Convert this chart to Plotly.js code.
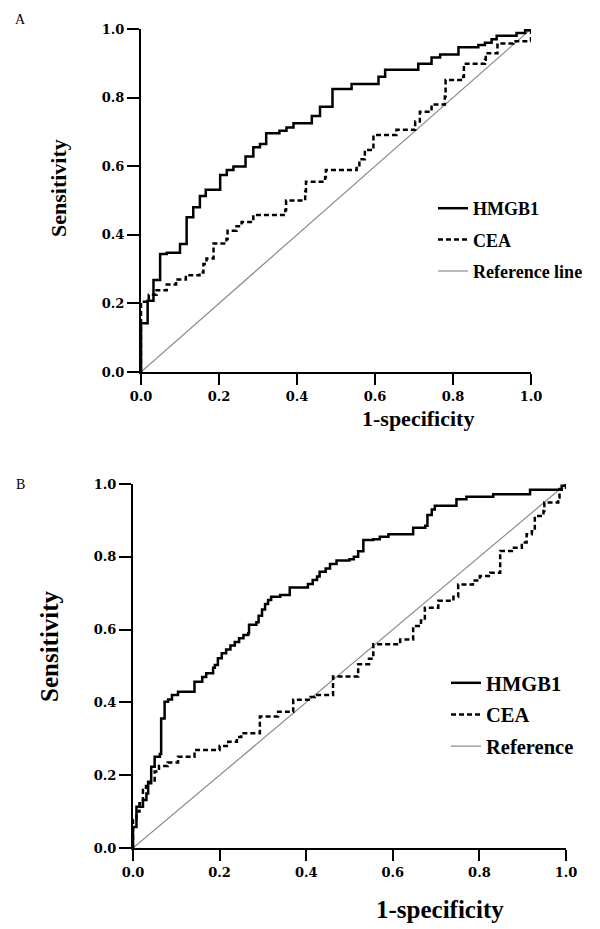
<!DOCTYPE html>
<html>
<head>
<meta charset="utf-8">
<script src="https://cdn.plot.ly/plotly-3.0.1.min.js"></script>
<style>html,body{margin:0;padding:0;background:#fff;}#chart{width:600px;height:929px;}</style>
</head>
<body>
<div id="chart"></div>
<script>
// ---------- data ----------
const tickVals = [0, 0.2, 0.4, 0.6, 0.8, 1.0];
const tickText = ['0.0', '0.2', '0.4', '0.6', '0.8', '1.0'];

const panelLabels = ['A', 'B'];
const legendNamesA = ['HMGB1', 'CEA', 'Reference line'];
const legendNamesB = ['HMGB1', 'CEA', 'Reference'];
const xTitle = '1-specificity';
const yTitle = 'Sensitivity';

const refX = [0, 1];
const refY = [0, 1];

// Panel A
const a_hmgb1_fpr = [0, 0, 0.017, 0.032, 0.049, 0.066, 0.100, 0.117, 0.134, 0.151, 0.166, 0.203, 0.220, 0.237, 0.268, 0.288, 0.305, 0.321, 0.355, 0.373, 0.391, 0.438, 0.459, 0.491, 0.540, 0.609, 0.626, 0.711, 0.745, 0.767, 0.814, 0.865, 0.882, 0.899, 0.912, 0.963, 0.985, 1];
const a_hmgb1_tpr = [0, 0.142, 0.208, 0.268, 0.344, 0.348, 0.373, 0.451, 0.480, 0.513, 0.531, 0.574, 0.589, 0.599, 0.628, 0.655, 0.665, 0.696, 0.703, 0.713, 0.725, 0.746, 0.773, 0.825, 0.840, 0.861, 0.881, 0.899, 0.917, 0.926, 0.947, 0.953, 0.960, 0.970, 0.980, 0.988, 0.996, 1];
const a_cea_fpr = [0, 0, 0.02, 0.04, 0.066, 0.09, 0.115, 0.150, 0.160, 0.168, 0.186, 0.219, 0.222, 0.245, 0.258, 0.288, 0.370, 0.372, 0.421, 0.423, 0.472, 0.474, 0.553, 0.560, 0.574, 0.596, 0.655, 0.703, 0.715, 0.745, 0.779, 0.781, 0.826, 0.828, 0.882, 0.884, 0.914, 0.954, 1];
const a_cea_tpr = [0, 0.205, 0.225, 0.238, 0.255, 0.270, 0.282, 0.290, 0.315, 0.331, 0.375, 0.388, 0.412, 0.425, 0.437, 0.458, 0.472, 0.500, 0.526, 0.555, 0.568, 0.589, 0.599, 0.620, 0.647, 0.691, 0.706, 0.730, 0.759, 0.780, 0.803, 0.851, 0.861, 0.899, 0.910, 0.929, 0.958, 0.964, 1];

// Panel B
const b_hmgb1_fpr = [0, 0, 0.008, 0.023, 0.031, 0.035, 0.042, 0.050, 0.062, 0.065, 0.073, 0.081, 0.090, 0.104, 0.142, 0.160, 0.169, 0.185, 0.189, 0.196, 0.205, 0.215, 0.225, 0.235, 0.245, 0.255, 0.266, 0.268, 0.285, 0.290, 0.298, 0.305, 0.312, 0.319, 0.340, 0.362, 0.404, 0.415, 0.425, 0.431, 0.445, 0.455, 0.470, 0.500, 0.510, 0.520, 0.532, 0.555, 0.570, 0.590, 0.647, 0.675, 0.680, 0.690, 0.697, 0.747, 0.770, 0.832, 0.917, 0.990, 1];
const b_hmgb1_tpr = [0, 0.058, 0.113, 0.132, 0.150, 0.178, 0.223, 0.251, 0.258, 0.356, 0.402, 0.408, 0.420, 0.429, 0.457, 0.470, 0.480, 0.495, 0.503, 0.521, 0.535, 0.545, 0.556, 0.566, 0.576, 0.585, 0.590, 0.613, 0.620, 0.638, 0.655, 0.670, 0.681, 0.690, 0.695, 0.716, 0.725, 0.736, 0.746, 0.759, 0.768, 0.780, 0.790, 0.793, 0.800, 0.815, 0.846, 0.848, 0.855, 0.862, 0.880, 0.885, 0.915, 0.930, 0.940, 0.958, 0.965, 0.972, 0.984, 0.995, 1];
const b_cea_fpr = [0, 0, 0.008, 0.015, 0.023, 0.030, 0.035, 0.050, 0.060, 0.080, 0.104, 0.142, 0.200, 0.220, 0.240, 0.250, 0.293, 0.335, 0.370, 0.410, 0.420, 0.462, 0.520, 0.545, 0.555, 0.617, 0.647, 0.665, 0.674, 0.705, 0.740, 0.751, 0.785, 0.801, 0.825, 0.848, 0.848, 0.875, 0.898, 0.909, 0.921, 0.928, 0.948, 0.950, 0.982, 0.985, 1];
const b_cea_tpr = [0, 0.077, 0.100, 0.123, 0.159, 0.170, 0.182, 0.210, 0.225, 0.235, 0.251, 0.269, 0.280, 0.292, 0.305, 0.315, 0.361, 0.374, 0.407, 0.415, 0.420, 0.471, 0.505, 0.520, 0.560, 0.573, 0.610, 0.625, 0.660, 0.679, 0.690, 0.724, 0.735, 0.747, 0.756, 0.766, 0.816, 0.825, 0.839, 0.862, 0.870, 0.912, 0.926, 0.949, 0.963, 0.986, 1];

// ---------- styles ----------
const SERIF = 'Liberation Serif, Times New Roman, serif';
const TICKFONT = 'DejaVu Serif, serif';
const W = 600, H = 929;
const px = v => v / W;
const py = v => 1 - v / H;

const hmgb1Line = {color: '#000', width: 2.5, shape: 'hv'};
const ceaLine = {color: '#000', width: 2.5, shape: 'hv', dash: '5px,3px'};
const refLine = {color: '#8a8a8a', width: 1.2};

function traces(xa, ya, leg, names, hx, hy, cx, cy) {
  return [
    {x: refX, y: refY, xaxis: xa, yaxis: ya, mode: 'lines', line: refLine, name: names[2], legend: leg, legendgroup: leg + 'r', legendrank: 3, hoverinfo: 'skip'},
    {x: cx, y: cy, xaxis: xa, yaxis: ya, mode: 'lines', line: ceaLine, name: names[1], legend: leg, legendgroup: leg + 'c', legendrank: 2},
    {x: hx, y: hy, xaxis: xa, yaxis: ya, mode: 'lines', line: hmgb1Line, name: names[0], legend: leg, legendgroup: leg + 'h', legendrank: 1}
  ];
}

const data = [].concat(
  traces('x', 'y', 'legend', legendNamesA, a_hmgb1_fpr, a_hmgb1_tpr, a_cea_fpr, a_cea_tpr),
  traces('x2', 'y2', 'legend2', legendNamesB, b_hmgb1_fpr, b_hmgb1_tpr, b_cea_fpr, b_cea_tpr)
);

function axis(domain, anchor, ticklen) {
  return {
    domain: domain, anchor: anchor, range: [0, 1], fixedrange: true,
    showline: true, linecolor: '#000', linewidth: 2,
    ticks: 'outside', ticklen: ticklen, tickwidth: 2, tickcolor: '#000',
    tickvals: tickVals, ticktext: tickText,
    tickfont: {family: TICKFONT, size: 13, color: '#000', weight: 'bold'},
    showgrid: false, zeroline: false
  };
}

function ann(text, x, y, size, opts) {
  return Object.assign({
    text: text, xref: 'paper', yref: 'paper', x: px(x), y: py(y),
    xanchor: 'center', yanchor: 'middle', showarrow: false,
    font: {family: SERIF, size: size, color: '#000', weight: 'bold'}
  }, opts || {});
}

const layout = {
  width: W, height: H,
  margin: {l: 0, r: 0, t: 0, b: 0},
  paper_bgcolor: '#fff', plot_bgcolor: '#fff',
  showlegend: true,
  xaxis: axis([px(141), px(531)], 'y', 11),
  yaxis: axis([py(372), py(29)], 'x', 12),
  xaxis2: axis([px(133), px(566)], 'y2', 11),
  yaxis2: axis([py(848), py(484)], 'x2', 12),
  legend: {
    x: px(433), xanchor: 'left', y: py(190), yanchor: 'top',
    bgcolor: 'rgba(0,0,0,0)', borderwidth: 0,
    traceorder: 'grouped', tracegroupgap: 5,
    font: {family: SERIF, size: 18, color: '#000', weight: 'bold'}
  },
  legend2: {
    x: px(446), xanchor: 'left', y: py(663), yanchor: 'top',
    bgcolor: 'rgba(0,0,0,0)', borderwidth: 0,
    traceorder: 'grouped', tracegroupgap: 2,
    font: {family: SERIF, size: 20.5, color: '#000', weight: 'bold'}
  },
  annotations: [
    ann(panelLabels[0], 20, 19, 14, {font: {family: SERIF, size: 14, color: '#000'}}),
    ann(panelLabels[1], 20, 484, 14, {font: {family: SERIF, size: 14, color: '#000'}}),
    ann(yTitle, 58, 188, 22, {textangle: -90}),
    ann(xTitle, 418, 418, 22),
    ann(yTitle, 49, 646, 25, {textangle: -90}),
    ann(xTitle, 440, 909, 25)
  ]
};

Plotly.newPlot('chart', data, layout, {staticPlot: true, displayModeBar: false});
</script>
</body>
</html>
